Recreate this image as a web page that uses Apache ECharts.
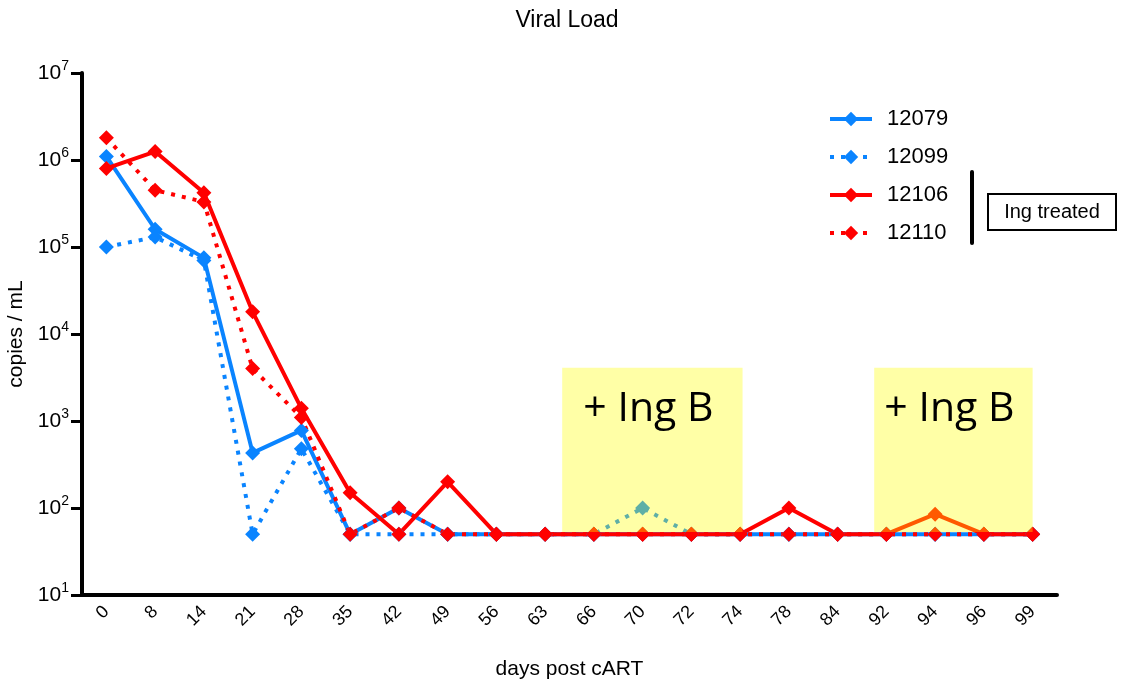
<!DOCTYPE html>
<html>
<head>
<meta charset="utf-8">
<script src="https://cdn.jsdelivr.net/npm/echarts@6/dist/echarts.min.js"></script>
<style>
  html, body { margin: 0; padding: 0; background: #fff; }
  #chart { width: 1134px; height: 693px; }
</style>
</head>
<body>
<div id="chart"></div>
<script>
// days post cART (category axis)
const days = ['0', '8', '14', '21', '28', '35', '42', '49', '56', '63', '66', '70', '72', '74', '78', '84', '92', '94', '96', '99'];

// copies / mL per animal
const v12079 = [1.1e6, 1.6e5, 7.5e4, 430, 780, 50, 100, 50, 50, 50, 50, 50, 50, 50, 50, 50, 50, 50, 50, 50];
const v12099 = [1e5, 1.3e5, 7e4, 50, 480, 50, 50, 50, 50, 50, 50, 100, 50, 50, 50, 50, 50, 50, 50, 50];
const v12106 = [8e5, 1.25e6, 4.2e5, 1.8e4, 1400, 150, 50, 200, 50, 50, 50, 50, 50, 50, 100, 50, 50, 85, 50, 50];
const v12110 = [1.8e6, 4.5e5, 3.3e5, 4000, 1100, 50, 100, 50, 50, 50, 50, 50, 50, 50, 50, 50, 50, 50, 50, 50];

// Ing B treatment windows (category index range, copies range)
const ingB = [
  { from: 9.35, to: 13.05, top: 4100, bottom: 53 },
  { from: 15.75, to: 19.0, top: 4100, bottom: 53 }
];

const BLUE = '#0a84ff';
const RED = '#ff0000';
const FONT = 'Liberation Sans';

const chart = echarts.init(document.getElementById('chart'));

function mkSeries(name, data, color, dotted) {
  return {
    name: name,
    type: 'line',
    data: data,
    symbol: 'diamond',
    symbolSize: 15,
    itemStyle: { color: color },
    lineStyle: { color: color, width: 4, type: dotted ? [4, 7] : 'solid' },
    emphasis: { disabled: true },
    animation: false
  };
}

const option = {
  backgroundColor: '#fff',
  animation: false,
  title: {
    text: 'Viral Load',
    left: 'center',
    top: 4,
    textStyle: { fontFamily: FONT, fontSize: 23, fontWeight: 'normal', color: '#000' }
  },
  legend: {
    orient: 'vertical',
    left: 823,
    top: 103,
    itemWidth: 42,
    itemHeight: 18,
    itemGap: 16,
    data: ['12079', '12099', '12106', '12110'],
    lineStyle: { width: 4 },
    textStyle: { fontFamily: FONT, fontSize: 22, color: '#000', padding: [0, 0, 0, 10] }
  },
  grid: { left: 82, right: 77, top: 73, bottom: 98, outerBoundsMode: 'none', containLabel: false },
  xAxis: {
    type: 'category',
    data: days,
    boundaryGap: true,
    name: 'days post cART',
    nameLocation: 'middle',
    nameGap: 64,
    nameTextStyle: { fontFamily: FONT, fontSize: 21, color: '#000' },
    axisLine: { lineStyle: { color: '#000', width: 4 } },
    axisTick: { alignWithLabel: true, length: 10, lineStyle: { color: '#000', width: 3 } },
    axisLabel: { rotate: 45, fontFamily: FONT, fontSize: 18, color: '#000', margin: 14 },
    splitLine: { show: false }
  },
  yAxis: {
    type: 'log',
    logBase: 10,
    min: 10,
    max: 1e7,
    name: 'copies / mL',
    nameLocation: 'middle',
    nameGap: 52,
    nameTextStyle: { fontFamily: FONT, fontSize: 21, color: '#000' },
    axisLine: { show: true, lineStyle: { color: '#000', width: 4 } },
    axisTick: { show: true, length: 11, lineStyle: { color: '#000', width: 3 } },
    splitLine: { show: false },
    axisLabel: {
      margin: 13,
      formatter: function (v) {
        return '{b|10}{s|' + Math.round(Math.log10(v)) + '}';
      },
      rich: {
        b: { fontFamily: FONT, fontSize: 21, color: '#000', verticalAlign: 'bottom', lineHeight: 22 },
        s: { fontFamily: FONT, fontSize: 14, color: '#000', verticalAlign: 'bottom', lineHeight: 14, padding: [0, 0, 11, 0] }
      }
    }
  },
  series: [
    mkSeries('12079', v12079, BLUE, false),
    mkSeries('12099', v12099, BLUE, true),
    mkSeries('12106', v12106, RED, false),
    mkSeries('12110', v12110, RED, true)
  ]
};

chart.setOption(option);

// overlays placed through the axes
function xPix(i) {
  const p0 = chart.convertToPixel({ xAxisIndex: 0 }, 0);
  const p1 = chart.convertToPixel({ xAxisIndex: 0 }, 1);
  return p0 + (p1 - p0) * i;
}
function yPix(v) {
  return chart.convertToPixel({ yAxisIndex: 0 }, v);
}

const graphics = [];
ingB.forEach(function (b) {
  const x0 = xPix(b.from), x1 = xPix(b.to);
  const y0 = yPix(b.top), y1 = yPix(b.bottom);
  graphics.push({
    type: 'rect',
    z: 100,
    shape: { x: x0, y: y0, width: x1 - x0, height: y1 - y0 },
    style: { fill: 'rgba(255,255,0,0.35)' },
    silent: true
  });
  graphics.push({
    type: 'text',
    z: 101,
    x: (x0 + x1) / 2 - 4,
    y: y0 + 42,
    style: {
      text: '+ Ing B',
      fontFamily: 'Open Sans',
      fontSize: 41,
      fill: '#000',
      textAlign: 'center',
      textVerticalAlign: 'middle'
    },
    silent: true
  });
});

// bracket for the Ing-treated animals
graphics.push({
  type: 'line',
  z: 100,
  shape: { x1: 972, y1: 172, x2: 972, y2: 243 },
  style: { stroke: '#000', lineWidth: 4, lineCap: 'round' }
});
graphics.push({
  type: 'rect',
  z: 100,
  shape: { x: 988, y: 194, width: 128, height: 36 },
  style: { fill: '#fff', stroke: '#000', lineWidth: 2 }
});
graphics.push({
  type: 'text',
  z: 101,
  x: 1052,
  y: 212,
  style: {
    text: 'Ing treated',
    fontFamily: FONT,
    fontSize: 20,
    fill: '#000',
    textAlign: 'center',
    textVerticalAlign: 'middle'
  }
});

chart.setOption({ graphic: graphics });
</script>
</body>
</html>
